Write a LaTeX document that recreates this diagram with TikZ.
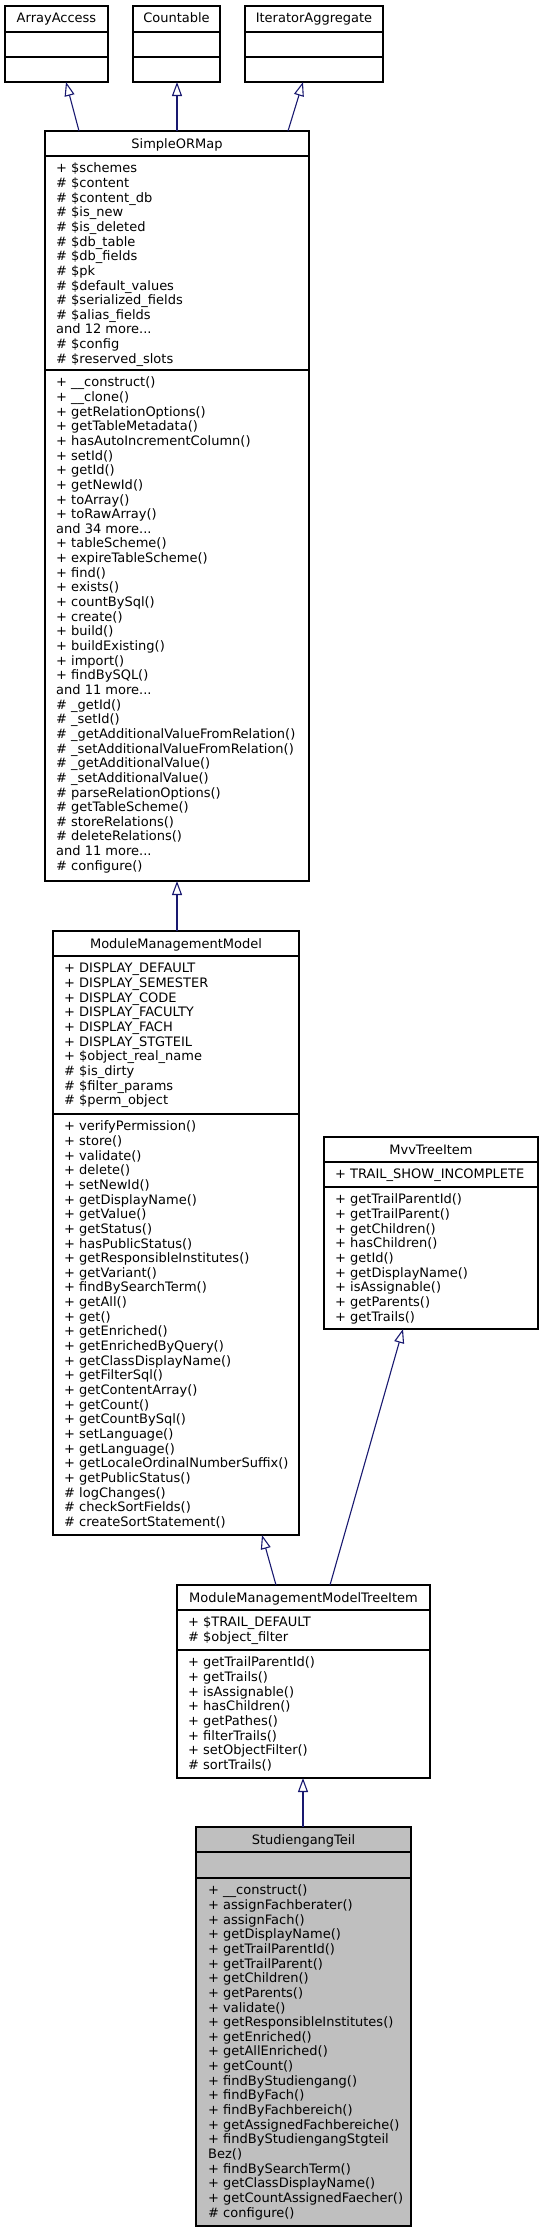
\documentclass[tikz,border=0pt]{standalone}
\usepackage{fontspec}
\setmainfont{DejaVu Sans}
\usetikzlibrary{arrows.meta}
\definecolor{edgeblue}{HTML}{191970}
\definecolor{hlfill}{HTML}{BFBFBF}
\newcommand\ddd{...}
\newcommand\umlrows[4]{%
  \foreach \ltxt [count=\i] in {#4}{%
    \node[row] (#1-\i) at (#2,{#3+16.8+(\i-1)*14.65}) {\ltxt};}}
\tikzset{
  cbox/.style={draw=black, line width=1.1pt, fill=white, inner sep=0pt, outer sep=0pt, anchor=north west},
  hlbox/.style={cbox, fill=hlfill},
  cline/.style={draw=black, line width=1.1pt},
  row/.style={anchor=base west, inner sep=0pt, font=\fontsize{13}{14.65}\selectfont},
  ttl/.style={anchor=base, inner sep=0pt, font=\fontsize{13}{14.65}\selectfont},
  inh/.style={draw=edgeblue, line width=1.1pt, -{Triangle[open, length=14pt, width=10pt, line width=1.1pt]}}
}
\begin{document}
\begin{tikzpicture}[x=1pt, y=-1pt]
\useasboundingbox (0,0) rectangle (543,2232);

% ---- interfaces
\node[cbox, minimum width=103pt, minimum height=76pt] (aa) at (5,6) {};
\draw[cline] ([yshift=-26pt]aa.north west) -- ([yshift=-26pt]aa.north east);
\draw[cline] ([yshift=-51pt]aa.north west) -- ([yshift=-51pt]aa.north east);
\node[ttl] (aa-t) at ([yshift=-17pt]aa.north) {ArrayAccess};

\node[cbox, minimum width=87pt, minimum height=76pt] (ct) at (133,6) {};
\draw[cline] ([yshift=-26pt]ct.north west) -- ([yshift=-26pt]ct.north east);
\draw[cline] ([yshift=-51pt]ct.north west) -- ([yshift=-51pt]ct.north east);
\node[ttl] (ct-t) at ([yshift=-17pt]ct.north) {Countable};

\node[cbox, minimum width=138pt, minimum height=76pt] (ia) at (245,6) {};
\draw[cline] ([yshift=-26pt]ia.north west) -- ([yshift=-26pt]ia.north east);
\draw[cline] ([yshift=-51pt]ia.north west) -- ([yshift=-51pt]ia.north east);
\node[ttl] (ia-t) at ([yshift=-17pt]ia.north) {IteratorAggregate};

% ---- SimpleORMap
\node[cbox, minimum width=264pt, minimum height=750pt] (sorm) at (45,131) {};
\draw[cline] ([yshift=-25pt]sorm.north west) -- ([yshift=-25pt]sorm.north east);
\draw[cline] ([yshift=-239pt]sorm.north west) -- ([yshift=-239pt]sorm.north east);
\node[ttl] (sorm-t) at ([yshift=-17pt]sorm.north) {SimpleORMap};
\umlrows{sorma}{56}{156}{+ \$schemes,\# \$content,\# \$content\_db,\# \$is\_new,\# \$is\_deleted,\# \$db\_table,\# \$db\_fields,\# \$pk,\# \$default\_values,\# \$serialized\_fields,\# \$alias\_fields,and 12 more\ddd,\# \$config,\# \$reserved\_slots}
\umlrows{sormm}{56}{370}{+ \_\_construct(),+ \_\_clone(),+ getRelationOptions(),+ getTableMetadata(),+ hasAutoIncrementColumn(),+ setId(),+ getId(),+ getNewId(),+ toArray(),+ toRawArray(),and 34 more\ddd,+ tableScheme(),+ expireTableScheme(),+ find(),+ exists(),+ countBySql(),+ create(),+ build(),+ buildExisting(),+ import(),+ findBySQL(),and 11 more\ddd,\# \_getId(),\# \_setId(),\# \_getAdditionalValueFromRelation(),\# \_setAdditionalValueFromRelation(),\# \_getAdditionalValue(),\# \_setAdditionalValue(),\# parseRelationOptions(),\# getTableScheme(),\# storeRelations(),\# deleteRelations(),and 11 more\ddd,\# configure()}

% ---- ModuleManagementModel
\node[cbox, minimum width=246pt, minimum height=604pt] (mmm) at (53,931) {};
\draw[cline] ([yshift=-25pt]mmm.north west) -- ([yshift=-25pt]mmm.north east);
\draw[cline] ([yshift=-183pt]mmm.north west) -- ([yshift=-183pt]mmm.north east);
\node[ttl] (mmm-t) at ([yshift=-17pt]mmm.north) {ModuleManagementModel};
\umlrows{mmma}{64}{956}{+ DISPLAY\_DEFAULT,+ DISPLAY\_SEMESTER,+ DISPLAY\_CODE,+ DISPLAY\_FACULTY,+ DISPLAY\_FACH,+ DISPLAY\_STGTEIL,+ \$object\_real\_name,\# \$is\_dirty,\# \$filter\_params,\# \$perm\_object}
\umlrows{mmmm}{64}{1114}{+ verifyPermission(),+ store(),+ validate(),+ delete(),+ setNewId(),+ getDisplayName(),+ getValue(),+ getStatus(),+ hasPublicStatus(),+ getResponsibleInstitutes(),+ getVariant(),+ findBySearchTerm(),+ getAll(),+ get(),+ getEnriched(),+ getEnrichedByQuery(),+ getClassDisplayName(),+ getFilterSql(),+ getContentArray(),+ getCount(),+ getCountBySql(),+ setLanguage(),+ getLanguage(),+ getLocaleOrdinalNumberSuffix(),+ getPublicStatus(),\# logChanges(),\# checkSortFields(),\# createSortStatement()}

% ---- MvvTreeItem
\node[cbox, minimum width=214pt, minimum height=192pt] (mvv) at (324,1137) {};
\draw[cline] ([yshift=-25pt]mvv.north west) -- ([yshift=-25pt]mvv.north east);
\draw[cline] ([yshift=-50pt]mvv.north west) -- ([yshift=-50pt]mvv.north east);
\node[ttl] (mvv-t) at ([yshift=-17pt]mvv.north) {MvvTreeItem};
\umlrows{mvva}{335}{1162}{+ TRAIL\_SHOW\_INCOMPLETE}
\umlrows{mvvm}{335}{1187}{+ getTrailParentId(),+ getTrailParent(),+ getChildren(),+ hasChildren(),+ getId(),+ getDisplayName(),+ isAssignable(),+ getParents(),+ getTrails()}

% ---- ModuleManagementModelTreeItem
\node[cbox, minimum width=253pt, minimum height=193pt] (mti) at (177,1585) {};
\draw[cline] ([yshift=-25pt]mti.north west) -- ([yshift=-25pt]mti.north east);
\draw[cline] ([yshift=-65pt]mti.north west) -- ([yshift=-65pt]mti.north east);
\node[ttl] (mti-t) at ([yshift=-17pt]mti.north) {ModuleManagementModelTreeItem};
\umlrows{mtia}{188}{1610}{+ \$TRAIL\_DEFAULT,\# \$object\_filter}
\umlrows{mtim}{188}{1650}{+ getTrailParentId(),+ getTrails(),+ isAssignable(),+ hasChildren(),+ getPathes(),+ filterTrails(),+ setObjectFilter(),\# sortTrails()}

% ---- StudiengangTeil
\node[hlbox, minimum width=215pt, minimum height=399pt] (st) at (196,1827) {};
\draw[cline] ([yshift=-25pt]st.north west) -- ([yshift=-25pt]st.north east);
\draw[cline] ([yshift=-51pt]st.north west) -- ([yshift=-51pt]st.north east);
\node[ttl] (st-t) at ([yshift=-17pt]st.north) {StudiengangTeil};
\umlrows{stm}{208}{1878}{+ \_\_construct(),+ assignFachberater(),+ assignFach(),+ getDisplayName(),+ getTrailParentId(),+ getTrailParent(),+ getChildren(),+ getParents(),+ validate(),+ getResponsibleInstitutes(),+ getEnriched(),+ getAllEnriched(),+ getCount(),+ findByStudiengang(),+ findByFach(),+ findByFachbereich(),+ getAssignedFachbereiche(),+ findByStudiengangStgteil,Bez(),+ findBySearchTerm(),+ getClassDisplayName(),+ getCountAssignedFaecher(),\# configure()}

% ---- inheritance connectors
\draw[inh] ([xshift=34pt]sorm.north west) -- ([xshift=61pt]aa.south west);
\draw[inh] ([xshift=132pt]sorm.north west) -- ([xshift=44pt]ct.south west);
\draw[inh] ([xshift=243pt]sorm.north west) -- ([xshift=58pt]ia.south west);
\draw[inh] ([xshift=124pt]mmm.north west) -- (sorm.south);
\draw[inh] ([xshift=99pt]mti.north west) -- ([xshift=209pt]mmm.south west);
\draw[inh] ([xshift=153pt]mti.north west) -- ([xshift=79pt]mvv.south west);
\draw[inh] ([xshift=107pt]st.north west) -- ([xshift=126pt]mti.south west);
\end{tikzpicture}
\end{document}
